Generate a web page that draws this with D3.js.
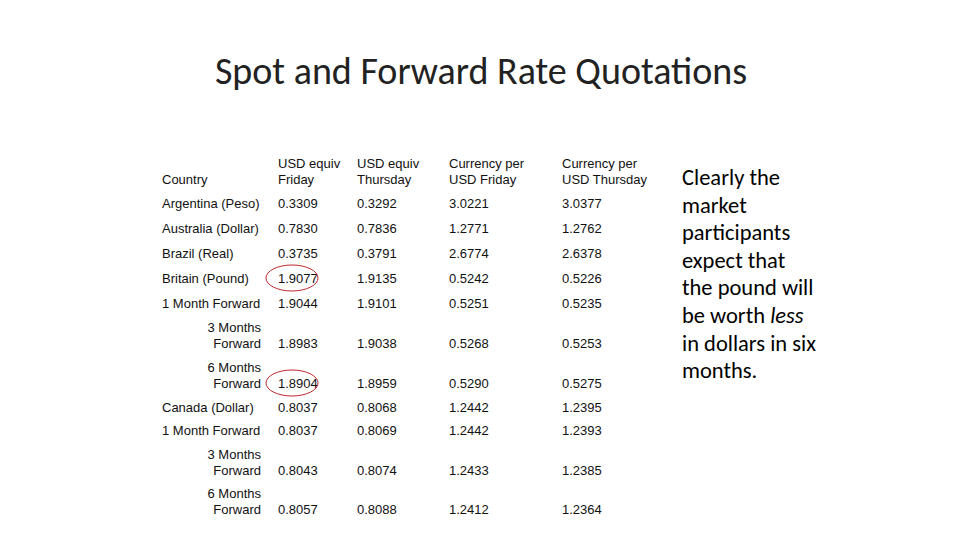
<!DOCTYPE html><html><head><meta charset="utf-8"><script src="https://cdn.jsdelivr.net/npm/d3@7"></script>
<style>body{margin:0;background:#fff}</style></head><body><svg id="c" width="960" height="540"></svg>
<script>
const title = "Spot and Forward Rate Quotations";
const headers = [["","Country"],["USD equiv","Friday"],["USD equiv","Thursday"],["Currency per","USD Friday"],["Currency per","USD Thursday"]];
const labels = [["Argentina (Peso)"],["Australia (Dollar)"],["Brazil (Real)"],["Britain (Pound)"],["1 Month Forward"],["3 Months","Forward"],["6 Months","Forward"],["Canada (Dollar)"],["1 Month Forward"],["3 Months","Forward"],["6 Months","Forward"]];
const usdFri = ["0.3309","0.7830","0.3735","1.9077","1.9044","1.8983","1.8904","0.8037","0.8037","0.8043","0.8057"];
const usdThu = ["0.3292","0.7836","0.3791","1.9135","1.9101","1.9038","1.8959","0.8068","0.8069","0.8074","0.8088"];
const curFri = ["3.0221","1.2771","2.6774","0.5242","0.5251","0.5268","0.5290","1.2442","1.2442","1.2433","1.2412"];
const curThu = ["3.0377","1.2762","2.6378","0.5226","0.5235","0.5253","0.5275","1.2395","1.2393","1.2385","1.2364"];
const circled = [3,6];
const note = ["Clearly the","market","participants","expect that","the pound will","be worth <i>less</i>","in dollars in six","months."];

const svg = d3.select("#c");
svg.append("text").attr("x",481).attr("y",84).attr("text-anchor","middle")
  .attr("font-family","Carlito, 'Open Sans', sans-serif").attr("font-size",38).attr("fill","#222").text(title);

const font = "'Liberation Sans', Arial, sans-serif";
const colX = [162,278,357,449,562];
const rowY = [208,233,258,283,308,348,388,412,435,475,514];
const lh = 16;
const g = svg.append("g").attr("font-family",font).attr("font-size",13).attr("fill","#111");
headers.forEach((h,i)=>{
  h.forEach((t,j)=>{ if(t) g.append("text").attr("x",colX[i]).attr("y",184-(1-j)*lh).text(t); });
});
labels.forEach((l,i)=>{
  if(l.length===1) g.append("text").attr("x",colX[0]).attr("y",rowY[i]).text(l[0]);
  else l.forEach((t,j)=>g.append("text").attr("x",261).attr("y",rowY[i]-(1-j)*lh).attr("text-anchor","end").text(t));
});
[usdFri,usdThu,curFri,curThu].forEach((col,c)=>{
  col.forEach((v,i)=>g.append("text").attr("x",colX[c+1]).attr("y",rowY[i]).text(v));
});
circled.forEach(i=>{
  svg.append("ellipse").attr("cx",colX[1]+14).attr("cy",rowY[i]-5).attr("rx",26).attr("ry",13)
    .attr("fill","none").attr("stroke","#c0282d").attr("stroke-width",1);
});
const n = svg.append("g").attr("font-family","Carlito, 'Open Sans', sans-serif").attr("font-size",22.5).attr("fill","#000");
note.forEach((t,i)=>{
  const tx = n.append("text").attr("x",682).attr("y",185+i*27.6);
  const m = t.match(/(.*)<i>(.*)<\/i>(.*)/);
  if(m){ tx.append("tspan").text(m[1]); tx.append("tspan").attr("font-style","italic").text(m[2]); tx.append("tspan").text(m[3]); }
  else tx.text(t);
});
</script></body></html>
